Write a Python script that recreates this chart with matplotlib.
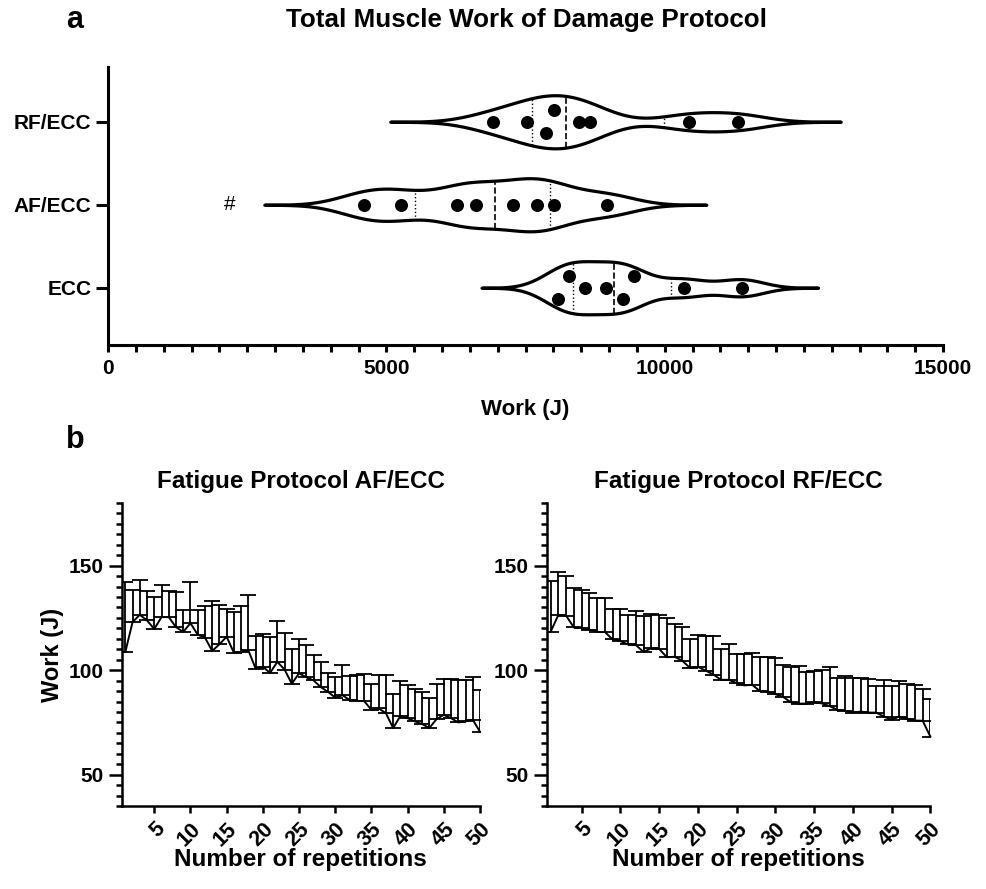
import numpy as np
import matplotlib.pyplot as plt
from matplotlib.ticker import MultipleLocator

plt.rcParams['font.family'] = ['Liberation Sans', 'DejaVu Sans']
plt.rcParams['font.weight'] = 'bold'
plt.rcParams['axes.labelweight'] = 'bold'

# Panel a: total work of the damage protocol per subject (J)
groups = ['ECC', 'AF/ECC', 'RF/ECC']
work_ecc = [8083, 8281, 8568, 8945, 9251, 9449, 10347, 11383]
work_af = [4599, 5263, 6269, 6610, 7281, 7712, 8012, 8958]
work_rf = [6916, 7527, 7868, 8012, 8461, 8658, 10437, 11317]

# Panel b: work per repetition, mean and mean + SD (J)
af_mean = [108.7, 123.0, 126.5, 123.8, 119.7, 125.4, 125.4, 120.6, 118.3, 122.5,
           117.0, 115.6, 109.2, 112.4, 116.0, 108.3, 108.7, 109.5, 100.8, 101.6,
           98.7, 104.0, 100.3, 93.5, 98.5, 96.6, 95.1, 91.9, 89.6, 86.9,
           88.0, 85.7, 85.3, 85.2, 81.0, 81.7, 79.4, 72.3, 78.1, 77.0,
           75.5, 74.2, 72.3, 76.6, 78.6, 77.0, 75.0, 75.5, 76.3, 70.5]
af_upper = [142.4, 138.4, 143.2, 138.1, 134.9, 140.8, 137.8, 137.3, 128.9, 142.0,
            128.6, 130.5, 133.3, 131.0, 129.4, 127.8, 130.5, 136.0, 116.2, 117.5,
            115.9, 123.5, 117.8, 110.3, 115.1, 112.0, 107.3, 103.7, 98.7, 96.6,
            102.3, 97.1, 97.9, 98.2, 93.2, 97.9, 97.7, 88.5, 94.6, 92.7,
            90.8, 89.6, 86.9, 93.5, 95.8, 95.7, 95.1, 95.1, 96.6, 90.7]
rf_mean = [118.3, 126.4, 126.1, 120.5, 120.1, 119.4, 118.3, 118.3, 114.7, 113.9,
           112.3, 112.0, 108.7, 110.5, 110.2, 106.2, 106.4, 104.5, 101.0, 101.6,
           99.8, 97.9, 95.4, 95.4, 93.8, 92.7, 93.0, 90.0, 89.6, 88.5,
           87.2, 84.6, 84.0, 84.0, 84.6, 84.1, 82.8, 81.0, 80.6, 79.7,
           80.2, 79.7, 79.7, 77.8, 76.3, 77.8, 76.6, 75.9, 75.8, 68.2]
rf_upper = [142.9, 146.8, 144.9, 139.3, 138.6, 136.9, 134.6, 134.3, 129.5, 129.5,
            126.4, 128.3, 125.9, 127.0, 126.2, 124.8, 122.1, 120.6, 115.1, 116.7,
            116.5, 116.2, 110.0, 112.6, 107.6, 107.6, 108.4, 106.3, 106.3, 106.0,
            102.6, 101.6, 102.1, 99.0, 99.6, 100.1, 101.6, 96.3, 97.4, 96.2,
            96.3, 95.7, 92.4, 95.5, 92.4, 94.6, 93.3, 92.7, 90.8, 86.3]


def draw_violin(ax, values, pos, jitter):
    v = np.asarray(values, float)
    q1, med, q3 = np.percentile(v, [25, 50, 75], method='weibull')
    spread = min(v.std(ddof=1), (q3 - q1) / 1.34)
    bw = 0.9 * spread * len(v) ** -0.2
    grid = np.linspace(v.min() - 2.08 * bw, v.max() + 2.08 * bw, 500)
    h = 0.6 * bw
    dens = np.exp(-0.5 * ((grid[:, None] - v[None, :]) / h) ** 2).sum(axis=1)
    half = 0.32 * dens / dens.max()
    ax.fill_between(grid, pos - half, pos + half, facecolor='white',
                    edgecolor='black', lw=2.3, zorder=2)
    for q, ls, lw in [(q1, ':', 1.0), (med, '--', 1.2), (q3, ':', 1.0)]:
        hw = np.interp(q, grid, half)
        ax.plot([q, q], [pos - hw, pos + hw], color='black', ls=ls, lw=lw, zorder=3)
    ax.scatter(v, pos + np.asarray(jitter), s=70, color='black', zorder=4)


def draw_fatigue(ax, mean, upper, title):
    reps = np.arange(1, len(mean) + 1)
    mean = np.asarray(mean)
    upper = np.asarray(upper)
    ax.plot(reps, mean, color='black', lw=1.4, clip_on=False)
    ax.errorbar(reps, mean, yerr=[np.zeros_like(mean), upper - mean], fmt='none',
                ecolor='black', elinewidth=1.3, capsize=5.5, capthick=1.3)
    ax.set_xlim(0.5, 50)
    ax.set_ylim(35, 180)
    ax.set_xticks(range(5, 51, 5))
    ax.set_xticklabels([str(r) for r in range(5, 51, 5)], rotation=45, ha='right',
                       rotation_mode='anchor', fontsize=15.5)
    ax.set_yticks([50, 100, 150])
    ax.yaxis.set_minor_locator(MultipleLocator(5))
    ax.tick_params(axis='y', which='major', length=9.5, width=1.8, labelsize=15)
    ax.tick_params(axis='y', which='minor', length=4, width=1.8)
    ax.tick_params(axis='x', which='major', length=5, width=1.8, pad=4)
    for s in ['top', 'right']:
        ax.spines[s].set_visible(False)
    for s in ['left', 'bottom']:
        ax.spines[s].set_linewidth(1.8)
    ax.set_title(title, fontsize=17.5, fontweight='bold', pad=11)
    ax.set_xlabel('Number of repetitions', fontsize=17.5, labelpad=-2)


fig = plt.figure(figsize=(9.86, 8.89), dpi=100)
W, H = 986, 889

ax = fig.add_axes([108 / W, (H - 345) / H, (943 - 108) / W, (345 - 67) / H])
jitters = [[-0.13, 0.14, 0, 0, -0.13, 0.14, 0, 0],
           [0, 0, 0, 0, 0, 0, 0, 0],
           [0, 0, -0.13, 0.14, 0, 0, 0, 0]]
for i, vals in enumerate([work_ecc, work_af, work_rf]):
    draw_violin(ax, vals, i, jitters[i])
ax.text(2190, 1, '#', fontsize=15, fontweight='normal', ha='center', va='center')
ax.set_xlim(0, 15000)
ax.set_ylim(-0.69, 2.66)
ax.set_yticks([0, 1, 2])
ax.set_yticklabels(groups, fontsize=15)
ax.set_xticks([0, 5000, 10000, 15000])
ax.xaxis.set_minor_locator(MultipleLocator(500))
ax.tick_params(axis='y', length=8.5, width=2.2)
ax.tick_params(axis='x', which='both', length=5, width=2.2, labelsize=15, pad=5)
for s in ['top', 'right']:
    ax.spines[s].set_visible(False)
for s in ['left', 'bottom']:
    ax.spines[s].set_linewidth(2.2)
ax.set_xlabel('Work (J)', fontsize=16, labelpad=15)

ax1 = fig.add_axes([121.7 / W, 83 / H, (480 - 121.7) / W, 303 / H])
draw_fatigue(ax1, af_mean, af_upper, 'Fatigue Protocol AF/ECC')
ax1.set_ylabel('Work (J)', fontsize=17, labelpad=3)

ax2 = fig.add_axes([546.7 / W, 83 / H, (930.4 - 546.7) / W, 303 / H])
draw_fatigue(ax2, rf_mean, rf_upper, 'Fatigue Protocol RF/ECC')

fig.text(526 / W, 1 - 20 / H, 'Total Muscle Work of Damage Protocol', fontsize=18.7,
         fontweight='bold', ha='center', va='center')
fig.text(75 / W, 1 - 20 / H, 'a', fontsize=22, fontweight='bold', ha='center', va='center')
fig.text(75 / W, 1 - 440 / H, 'b', fontsize=22, fontweight='bold', ha='center', va='center')

fig.savefig('out.png', dpi=100)
